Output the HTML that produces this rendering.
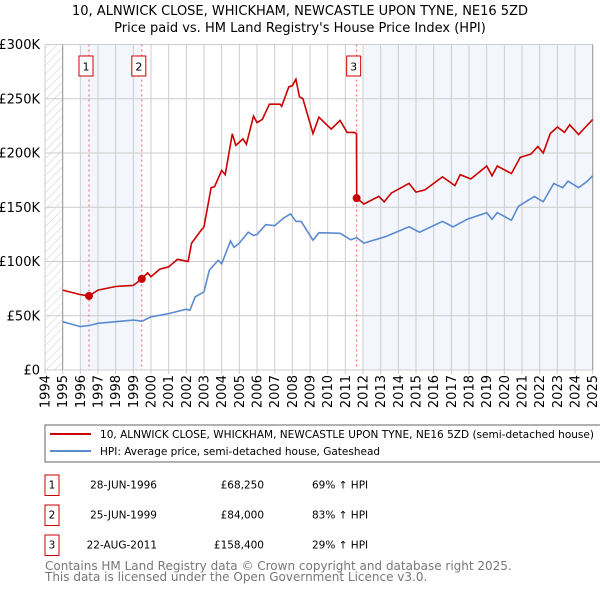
<!DOCTYPE html>
<html><head><meta charset="utf-8"><style>
body{margin:0;background:#fff;width:600px;height:590px;overflow:hidden;font-family:"DejaVu Sans","Liberation Sans",sans-serif;}
svg text{font-family:"DejaVu Sans","Liberation Sans",sans-serif;}
</style></head><body>
<svg id="chart" width="600" height="590" viewBox="0 0 600 590" xmlns="http://www.w3.org/2000/svg">
<defs><pattern id="hatch" width="6" height="6" patternUnits="userSpaceOnUse" patternTransform="rotate(45)"><line x1="0" y1="0" x2="0" y2="6" stroke="#ccc" stroke-width="1"/></pattern></defs>
<text x="300" y="15" text-anchor="middle" font-size="13" fill="#000">10, ALNWICK CLOSE, WHICKHAM, NEWCASTLE UPON TYNE, NE16 5ZD</text>
<text x="300" y="32" text-anchor="middle" font-size="13" fill="#000">Price paid vs. HM Land Registry's House Price Index (HPI)</text>
<g id="plot"></g>
<rect x="45" y="425" width="560" height="37" fill="#fff" stroke="#666"/>
<line x1="50" y1="434" x2="91" y2="434" stroke="#cc0000" stroke-width="2"/>
<text x="100" y="438" font-size="10.5" textLength="494" lengthAdjust="spacingAndGlyphs">10, ALNWICK CLOSE, WHICKHAM, NEWCASTLE UPON TYNE, NE16 5ZD (semi-detached house)</text>
<line x1="50" y1="451" x2="91" y2="451" stroke="#5a8ad0" stroke-width="2"/>
<text x="100" y="455" font-size="10.5">HPI: Average price, semi-detached house, Gateshead</text>
<g id="table" font-size="10.5"></g>
<text x="45" y="570" font-size="12" fill="#777">Contains HM Land Registry data © Crown copyright and database right 2025.</text>
<text x="45" y="581" font-size="12" fill="#777">This data is licensed under the Open Government Licence v3.0.</text>
</svg>
<script>
const hpiYears=[1995,1996,1996.5,1997,1998,1999,1999.5,2000,2001,2002,2002.2,2002.5,2003,2003.3,2003.8,2004,2004.5,2004.7,2005,2005.5,2005.8,2006,2006.5,2007,2007.5,2007.9,2008.2,2008.5,2009.17,2009.5,2010.7,2011.3,2011.64,2012.05,2013.3,2014.6,2015.2,2016.5,2017.1,2017.9,2019,2019.3,2019.6,2020.4,2020.8,2021.7,2022.2,2022.8,2023.3,2023.6,2024.2,2024.7,2025];
const hpiValues=[44.5,40,41,43,44.5,46,45,49,52,56,55,67.5,72,92,101,98,119,113,117,127,124,125,134,133,140,144,137,137,119.6,126.5,126,120,122,117,123,132,127,137,132,139,145,139,145,138,151,160,155,172,168,174,168,174,179];
const priceYears=[1995,1996,1996.49,1997,1998,1999,1999.48,1999.8,2000,2000.5,2001,2001.5,2002.1,2002.3,2002.8,2003,2003.4,2003.6,2004,2004.2,2004.6,2004.8,2005.2,2005.4,2005.8,2006,2006.3,2006.7,2007.3,2007.4,2007.8,2008,2008.2,2008.4,2008.6,2009.17,2009.5,2010.2,2010.7,2011.1,2011.5,2011.63,2011.64,2012.05,2012.9,2013.2,2013.6,2014.6,2015,2015.5,2016.5,2017.2,2017.5,2018.1,2019,2019.3,2019.6,2020.4,2020.9,2021.5,2021.9,2022.2,2022.6,2023,2023.4,2023.7,2024.2,2024.6,2025];
const priceValues=[73.6,69.5,68.25,73.6,77,78,84,89.6,86,93,95,102,100,117,128,132,168,169,184,180,217.7,207,213,208,234,228,231,245,245,243,261,262,268,252,250,218,233,222,230,219,219,218,158.4,153,160,155,163,172,164,166,178,170,180,176,188,179,188,181,196,199,206,200,218,224,219,226,217,224,231];
const saleYears=[1996.49,1999.48,2011.64];
const saleValues=[68.25,84,158.4];
const saleLabels=["1","2","3"];
const saleDates=["28-JUN-1996","25-JUN-1999","22-AUG-2011"];
const salePrices=["£68,250","£84,000","£158,400"];
const salePcts=["69% \u2191 HPI","83% \u2191 HPI","29% \u2191 HPI"];
const yTicks=[0,50,100,150,200,250,300];
const yTickLabels=["£0","£50K","£100K","£150K","£200K","£250K","£300K"];
const xTicks=[1994,1995,1996,1997,1998,1999,2000,2001,2002,2003,2004,2005,2006,2007,2008,2009,2010,2011,2012,2013,2014,2015,2016,2017,2018,2019,2020,2021,2022,2023,2024,2025];

const NS="http://www.w3.org/2000/svg";
const X0=45,X1=592.7,Y0=370,Y1=44.5;
const xs=y=>X0+(y-1994)/(2025-1994)*(X1-X0);
const ys=v=>Y0-v/300*(Y0-Y1);
const plot=document.getElementById('plot');
function mk(tag,attrs,parent){const e=document.createElementNS(NS,tag);for(const k in attrs)e.setAttribute(k,attrs[k]);(parent||plot).appendChild(e);return e;}

let r=mk('rect',{x:xs(1994),y:Y1,width:xs(1995)-xs(1994),height:Y0-Y1,fill:'url(#hatch)'});


r=mk('rect',{x:xs(1996),y:Y1,width:xs(1999.48)-xs(1996),height:Y0-Y1,fill:'#eef3fc',opacity:0.7});


r=mk('rect',{x:xs(2012.05),y:Y1,width:X1-xs(2012.05),height:Y0-Y1,fill:'#eef3fc',opacity:0.7});



yTicks.forEach((v,i)=>{
  const l=mk('line',{x1:X0,x2:X1,y1:ys(v),y2:ys(v),stroke:'#ccc','stroke-width':1});
  
  
  const t=mk('text',{x:X0-5,y:ys(v)+4.5,'text-anchor':'end','font-size':13});
  
  
  t.textContent=yTickLabels[i];
});
xTicks.forEach(yr=>{
  const l=mk('line',{x1:xs(yr),x2:xs(yr),y1:Y1,y2:Y0+4,stroke:'#ccc','stroke-width':1});
  
  
  const t=mk('text',{x:0,y:0,'text-anchor':'end','font-size':13,transform:`translate(${xs(yr)+4.5},375) rotate(-90)`});
  
  
  t.textContent=yr;
});
let ax=mk('line',{x1:xs(1995),x2:xs(1995),y1:Y1,y2:Y0,stroke:'#999'});


ax=mk('line',{x1:X1,x2:X1,y1:Y1,y2:Y0,stroke:'#999'});



saleYears.forEach((yr,i)=>{
  const l=mk('line',{x1:xs(yr),x2:xs(yr),y1:Y1,y2:Y0,stroke:'#f06060','stroke-dasharray':'2,3'});
  
  
  const b=mk('rect',{x:xs(yr)-10,y:56,width:14,height:20,fill:'#fff',stroke:'#cc0000'});
  
  
  const t=mk('text',{x:xs(yr)-3,y:70.5,'text-anchor':'middle','font-size':11});
  
  
  t.textContent=saleLabels[i];
});

const pts=(xa,va)=>xa.map((x,i)=>xs(x).toFixed(1)+','+ys(va[i]).toFixed(1)).join(' ');
const hp=mk('polyline',{points:pts(hpiYears,hpiValues),fill:'none',stroke:'#5a8ad0','stroke-width':1.6});


const pp=mk('polyline',{points:pts(priceYears,priceValues),fill:'none',stroke:'#cc0000','stroke-width':1.6});


saleYears.forEach((yr,i)=>{
  const c=mk('circle',{cx:xs(yr),cy:ys(saleValues[i]),r:4,fill:'#cc0000'});
  
  
});

const tb=document.getElementById('table');
saleLabels.forEach((lab,i)=>{
  const cy=485+i*30;
  const b=mk('rect',{x:45,y:cy-10,width:14,height:20.5,fill:'#fff',stroke:'#cc0000'},tb);
  
  
  const t0=mk('text',{x:52,y:cy+3.5},tb);t0.setAttribute('text-anchor','middle');t0.textContent=lab;
  
  
  const t1=mk('text',{x:157,y:cy+3.5,'text-anchor':'end'},tb);t1.textContent=saleDates[i];
  
  
  const t2=mk('text',{x:264,y:cy+3.5,'text-anchor':'end'},tb);t2.textContent=salePrices[i];
  
  
  const t3=mk('text',{x:312,y:cy+3.5},tb);t3.textContent=salePcts[i];
  
  
});
</script>
</body></html>
